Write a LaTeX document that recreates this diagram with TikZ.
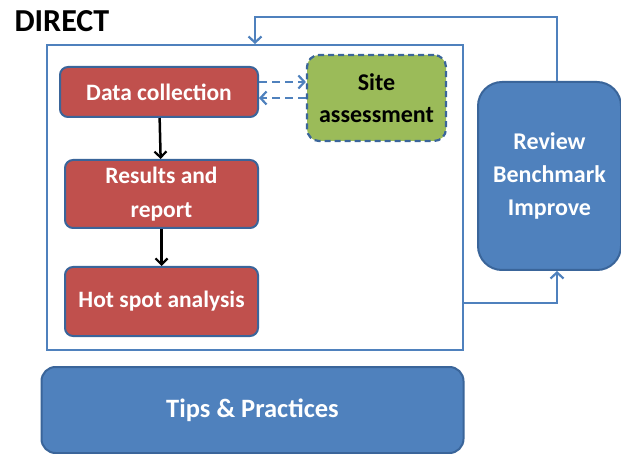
\documentclass[tikz,border=0pt]{standalone}
\usepackage{fontspec}
\setmainfont{Carlito}
\usetikzlibrary{arrows.meta}
\definecolor{boxred}{HTML}{C0504D}
\definecolor{boxgreen}{HTML}{9BBB59}
\definecolor{boxblue}{HTML}{4F81BD}
\definecolor{edgeblue}{HTML}{3A659A}
\tikzset{
  stepbox/.style={draw=edgeblue, line width=2pt, fill=boxred, rounded corners=8pt,
    text=white, font=\fontsize{23.5}{34}\selectfont\bfseries, align=center, inner sep=0pt},
  sitebox/.style={draw=edgeblue, line width=2.2pt, dash pattern=on 6pt off 4pt, fill=boxgreen,
    rounded corners=12pt, text=black, font=\fontsize{24}{32}\selectfont\bfseries, align=center, inner sep=0pt},
  bluebox/.style={draw=edgeblue, line width=2pt, fill=boxblue, text=white, align=center, inner sep=0pt},
  flow/.style={draw=black, line width=2.5pt, -{Straight Barb[length=6pt, width=12pt, line width=2.2pt]}},
  loop/.style={draw=boxblue, line width=2.4pt, -{Straight Barb[length=6pt, width=13pt, line width=2.2pt]}},
  link/.style={loop, dash pattern=on 8pt off 5pt},
}
\begin{document}
\begin{tikzpicture}[x=1pt, y=-1pt]
  \useasboundingbox (0,0) rectangle (621,454);

  \node[anchor=west, font=\fontsize{32}{36}\selectfont\bfseries] (title) at (11,21) {DIRECT};

  % frame holding the process steps
  \node[draw=boxblue, line width=2pt, minimum width=416pt, minimum height=305pt, inner sep=0pt]
    (frame) at (255,197.5) {};

  \node[stepbox, minimum width=198pt, minimum height=50pt] (collect) at (159,92) {Data collection};
  \node[stepbox, minimum width=193pt, minimum height=68pt] (results) at (161.5,194) {Results and\\report};
  \node[stepbox, minimum width=193pt, minimum height=69pt] (hotspot) at (161.5,301.5) {Hot spot analysis};
  \node[sitebox, minimum width=139pt, minimum height=86pt] (site) at (376.5,98) {Site\\assessment};

  \node[bluebox, rounded corners=24pt, minimum width=143pt, minimum height=188pt,
    font=\fontsize{24}{33}\selectfont\bfseries] (review) at (549.5,176) {Review\\Benchmark\\Improve};
  \node[bluebox, rounded corners=14pt, minimum width=422pt, minimum height=86pt,
    font=\fontsize{26.5}{30}\selectfont\bfseries] (tips) at (252.5,410) {Tips \& Practices};

  % step sequence
  \draw[flow] (collect) -- (results);
  \draw[flow] (results) -- (hotspot);

  % exchange with the site assessment
  \coordinate (d1) at ([yshift=10pt]collect.east);
  \coordinate (d2) at ([yshift=-6pt]collect.east);
  \draw[link] (d1) -- (d1 -| site.west);
  \draw[link] (d2 -| site.west) -- (d2);

  % improvement loop
  \coordinate (rt) at (557,17);
  \coordinate (lt) at (255,17);
  \coordinate (rb) at (557,303);
  \draw[loop] (review.north -| rt) -- (rt) -- (lt) -- (lt |- frame.north);
  \draw[loop] (frame.east |- rb) -- (rb) -- (rb |- review.south);
\end{tikzpicture}
\end{document}
